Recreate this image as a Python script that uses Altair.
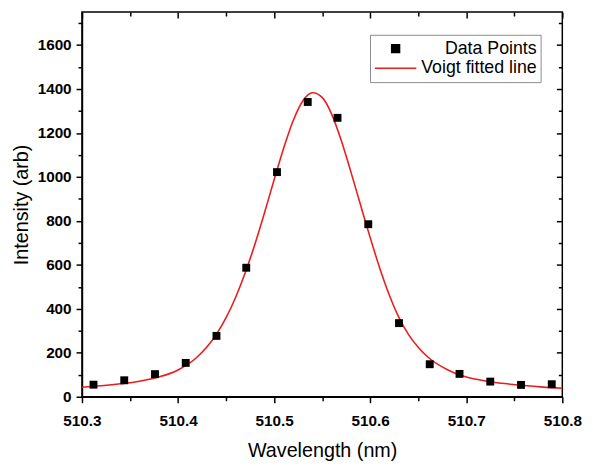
import altair as alt
import pandas as pd

# Measured data points
wl_pts = [510.312, 510.344, 510.376, 510.408, 510.440, 510.471, 510.503, 510.535,
          510.566, 510.598, 510.630, 510.662, 510.693, 510.725, 510.757, 510.789]
int_pts = [55, 75, 103, 154, 277, 587, 1022, 1341,
           1269, 785, 335, 148, 104, 69, 54, 57]

# Voigt fitted line
wl_fit = [510.30, 510.32, 510.34, 510.36, 510.38, 510.40, 510.42, 510.43,
          510.44, 510.45, 510.46, 510.47, 510.48, 510.49, 510.50, 510.51,
          510.52, 510.53, 510.54, 510.55, 510.56, 510.57, 510.58, 510.59,
          510.60, 510.61, 510.62, 510.63, 510.64, 510.65, 510.66, 510.68,
          510.70, 510.72, 510.74, 510.76, 510.78, 510.80]
int_fit = [43, 50, 59, 71, 90, 122, 181, 226,
           285, 360, 453, 565, 694, 837, 987, 1132,
           1258, 1347, 1383, 1362, 1285, 1165, 1022, 872,
           724, 585, 462, 360, 283, 225, 181, 124,
           90, 72, 60, 51, 44, 39]

x_ticks = [510.30, 510.35, 510.40, 510.45, 510.50, 510.55, 510.60, 510.65,
           510.70, 510.75, 510.80]
y_ticks = [0, 100, 200, 300, 400, 500, 600, 700, 800, 900, 1000, 1100, 1200,
           1300, 1400, 1500, 1600, 1700]
series = ["Data Points", "Voigt fitted line"]

pts = pd.DataFrame({"wl": wl_pts, "I": int_pts, "s": series[0]})
fit = pd.DataFrame({"wl": wl_fit, "I": int_fit, "s": series[1]})

FONT = "Liberation Sans"
xscale = alt.Scale(domain=[510.3, 510.8], nice=False, zero=False)
yscale = alt.Scale(domain=[0, 1750], nice=False, zero=False)

major_x = "abs(round(datum.value*20)) % 2 == 0"
major_y = "datum.value % 200 == 0"

color = alt.Color("s:N", scale=alt.Scale(domain=series, range=["black", "#ec1c1c"]),
                  legend=alt.Legend(title=None, orient="none", legendX=292, legendY=23,
                                    strokeColor="#8a8a8a", fillColor="white", padding=4,
                                    labelFont=FONT, labelFontSize=18, labelColor="black",
                                    labelAlign="right", labelOffset=121,
                                    clipHeight=20, rowPadding=0,
                                    symbolStrokeWidth=1.5))

bottom_axis = alt.Axis(values=x_ticks, orient="bottom", title="Wavelength (nm)",
                       labelExpr=f"{major_x} ? format(datum.value, '.1f') : ''",
                       tickSize={"condition": {"test": major_x, "value": 6}, "value": 4},
                       labelFlush=False, labelOverlap=False, labelPadding=11,
                       titlePadding=12, grid=False)
left_axis = alt.Axis(values=y_ticks, orient="left", title="Intensity (arb)",
                     labelExpr=f"{major_y} ? format(datum.value, 'd') : ''",
                     tickSize={"condition": {"test": major_y, "value": 6}, "value": 4},
                     labelFlush=False, labelOverlap=False, labelPadding=5,
                     titlePadding=6, grid=False)
top_axis = alt.Axis(values=x_ticks, orient="top", title=None, labels=False,
                    domain=False, offset=-6, tickSize=6, grid=False,
                    tickDash={"condition": {"test": major_x, "value": [6, 0]},
                              "value": [0, 2, 4]})
right_axis = alt.Axis(values=y_ticks, orient="right", title=None, labels=False,
                      domain=False, offset=-6, tickSize=6, grid=False,
                      tickDash={"condition": {"test": major_y, "value": [6, 0]},
                                "value": [0, 2, 4]})

line = alt.Chart(fit).mark_line(strokeWidth=1.6, interpolate="monotone").encode(
    x=alt.X("wl:Q", scale=xscale, axis=top_axis),
    y=alt.Y("I:Q", scale=yscale, axis=right_axis),
    color=color,
)

points = alt.Chart(pts).mark_point(filled=True, opacity=1).encode(
    x=alt.X("wl:Q", scale=xscale, axis=bottom_axis),
    y=alt.Y("I:Q", scale=yscale, axis=left_axis),
    color=color,
    shape=alt.Shape("s:N", scale=alt.Scale(domain=series, range=["square", "stroke"]),
                    legend=None),
    size=alt.Size("s:O", scale=alt.Scale(domain=series, range=[64, 1764]), legend=None),
)

chart = alt.layer(line, points).resolve_axis(x="independent", y="independent").properties(
    width=487, height=390,
    autosize=alt.AutoSizeParams(type="none"),
    padding={"left": 75, "top": 1, "right": 23, "bottom": 64},
).configure_view(stroke="black", strokeWidth=1.5).configure_axis(
    domainColor="black", domainWidth=1.5, tickColor="black", tickWidth=1.5,
    labelFont=FONT, labelFontSize=15.5, labelFontWeight="bold", labelColor="black",
    titleFont=FONT, titleFontSize=20, titleFontWeight="normal", titleColor="black",
)

chart.save("out.html", embed_options={"renderer": "svg", "actions": False})
